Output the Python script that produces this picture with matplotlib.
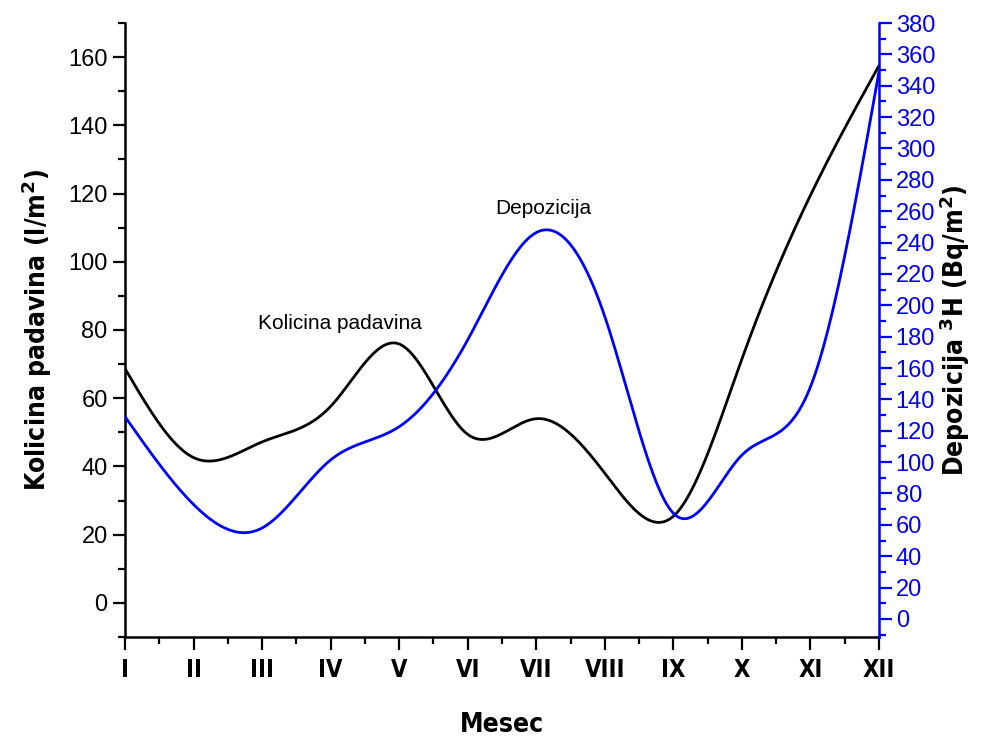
import numpy as np
import matplotlib
matplotlib.use("Agg")
import matplotlib.pyplot as plt
from matplotlib.ticker import MultipleLocator, FixedLocator
from matplotlib import font_manager

months = ["I", "II", "III", "IV", "V", "VI", "VII", "VIII", "IX", "X", "XI", "XII"]
padavine = [68.7, 42.6, 47.2, 57.6, 75.9, 49.4, 54.0, 38.0, 25.4, 71.5, 119.5, 157.5]
depozicija = [129.0, 73.0, 58.0, 101.4, 122.6, 178.0, 246.4, 192.8, 67.4, 104.5, 148.0, 349.0]


def natural_spline(x, y, n=600):
    x = np.asarray(x, float)
    y = np.asarray(y, float)
    m = len(x)
    h = np.diff(x)
    A = np.zeros((m, m))
    b = np.zeros(m)
    A[0, 0] = 1
    A[-1, -1] = 1
    for i in range(1, m - 1):
        A[i, i - 1] = h[i - 1]
        A[i, i] = 2 * (h[i - 1] + h[i])
        A[i, i + 1] = h[i]
        b[i] = 3 * ((y[i + 1] - y[i]) / h[i] - (y[i] - y[i - 1]) / h[i - 1])
    c = np.linalg.solve(A, b)
    xs = np.linspace(x[0], x[-1], n)
    idx = np.clip(np.searchsorted(x, xs) - 1, 0, m - 2)
    dx = xs - x[idx]
    bb = (y[idx + 1] - y[idx]) / h[idx] - h[idx] * (2 * c[idx] + c[idx + 1]) / 3
    d = (c[idx + 1] - c[idx]) / (3 * h[idx])
    ys = y[idx] + bb * dx + c[idx] * dx ** 2 + d * dx ** 3
    return xs, ys


names = {f.name for f in font_manager.fontManager.ttflist}
cond = [f for f in font_manager.fontManager.ttflist
        if f.name == "DejaVu Sans" and f.stretch == "condensed" and f.weight in (700, "bold")]
if "Liberation Sans Narrow" in names:
    narrow_fam = ["Liberation Sans Narrow", "DejaVu Sans"]
    narrow_stretch = "normal"
elif cond:
    narrow_fam = ["DejaVu Sans"]
    narrow_stretch = "condensed"
else:
    narrow_fam = ["Liberation Sans", "DejaVu Sans"]
    narrow_stretch = "normal"

regular = ["Liberation Sans", "DejaVu Sans"]
plt.rcParams["font.family"] = regular
plt.rcParams["mathtext.fontset"] = "custom"
plt.rcParams["mathtext.rm"] = narrow_fam[0] + ":bold"
plt.rcParams["mathtext.bf"] = narrow_fam[0] + ":bold"

fig = plt.figure(figsize=(9.81, 7.42), dpi=100)
ax = fig.add_axes([125 / 981, 105 / 742, 754 / 981, 614 / 742])
ax2 = ax.twinx()

x = np.arange(1, 13)
xs, ys1 = natural_spline(x, padavine)
_, ys2 = natural_spline(x, depozicija)

ax.plot(xs, ys1, color="black", lw=2.0, zorder=3)
ax2.plot(xs, ys2, color="#0000ff", lw=2.0, zorder=3)

ax.set_xlim(1, 12)
ax.set_ylim(-10, 170)
ax2.set_ylim(-11.5, 380)

ax.xaxis.set_major_locator(FixedLocator(x))
ax.xaxis.set_minor_locator(MultipleLocator(0.5))
ax.set_xticklabels(months, family=narrow_fam, stretch=narrow_stretch,
                   fontweight="bold", fontsize=19)
ax.set_yticks(np.arange(0, 161, 20))
ax.yaxis.set_minor_locator(FixedLocator(np.arange(-10, 171, 10)))
ax2.yaxis.set_major_locator(FixedLocator(np.arange(0, 381, 20)))
ax2.yaxis.set_minor_locator(FixedLocator(np.arange(-10, 381, 10)))

ax.spines["top"].set_visible(False)
ax2.spines["top"].set_visible(False)
ax2.spines["left"].set_visible(False)
ax2.spines["bottom"].set_visible(False)
ax.spines["right"].set_visible(False)
ax.spines["left"].set_linewidth(1.8)
ax.spines["bottom"].set_linewidth(1.8)
ax2.spines["right"].set_linewidth(1.8)
ax2.spines["right"].set_color("#0000ff")

ax.tick_params(axis="both", which="major", direction="out", length=9, width=1.6,
               labelsize=17)
ax.tick_params(axis="both", which="minor", direction="out", length=5, width=1.6)
ax.tick_params(axis="x", which="major", pad=6)
ax2.tick_params(axis="y", which="major", direction="out", length=9, width=1.6,
                labelsize=17, colors="#0000ff", pad=3)
ax2.tick_params(axis="y", which="minor", direction="out", length=5, width=1.6,
                colors="#0000ff")

ax.set_xlabel("Mesec", family=narrow_fam, stretch=narrow_stretch, fontweight="bold",
              fontsize=19, labelpad=22)
ax.set_ylabel(r"Kolicina padavina (l/m$^{\mathbf{2}}$)", family=narrow_fam,
              stretch=narrow_stretch, fontweight="bold", fontsize=19, labelpad=10)
ax2.set_ylabel(r"Depozicija $^{\mathbf{3}}$H (Bq/m$^{\mathbf{2}}$)", family=narrow_fam,
               stretch=narrow_stretch, fontweight="bold", fontsize=19, labelpad=2,
               color="black")

ax.text(4.13, 82, "Kolicina padavina", fontsize=15, ha="center", va="center")
ax2.text(7.1, 262, "Depozicija", fontsize=15, ha="center", va="center")

fig.savefig("out.png", dpi=100)
